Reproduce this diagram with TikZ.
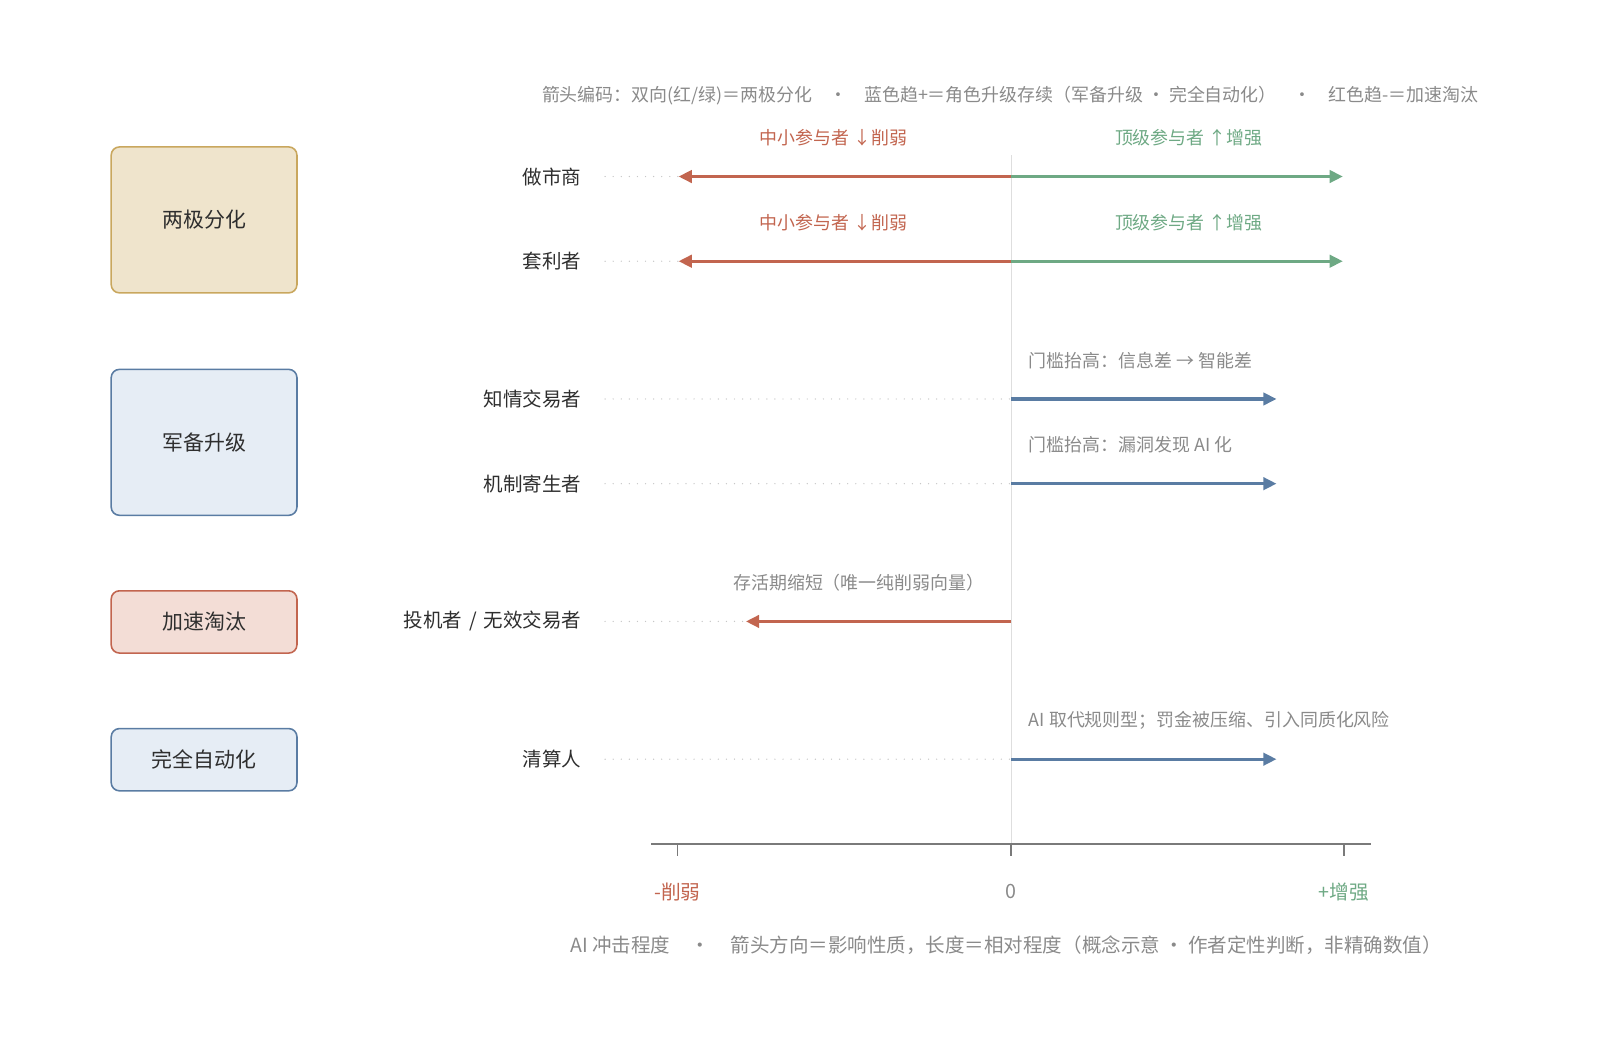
\documentclass[tikz,border=0pt]{standalone}
\usepackage{fontspec}
\setmainfont{Noto Sans CJK SC}
\usetikzlibrary{arrows.meta}

\definecolor{cutred}{HTML}{C2654F}
\definecolor{upgreen}{HTML}{6EA984}
\definecolor{keepblue}{HTML}{5A7CA3}
\definecolor{inkgray}{HTML}{8A8A8A}
\definecolor{inkdark}{HTML}{2E2E2E}
\definecolor{axisgray}{HTML}{7A7A7A}
\definecolor{sandfill}{HTML}{EFE4CC}
\definecolor{sanddraw}{HTML}{C9A75E}
\definecolor{bluefill}{HTML}{E6EDF5}
\definecolor{redfill}{HTML}{F3DDD6}

\tikzset{
	rowlabel/.style={anchor=east, inner sep=0pt, text=inkdark, font=\fontsize{11.1}{13}\selectfont},
	note/.style={inner sep=0pt, text=inkgray, font=\fontsize{10.2}{12}\selectfont},
	ticklabel/.style={inner sep=0pt, font=\fontsize{11.2}{13}\selectfont},
	groupbox/.style={draw, line width=0.9pt, rounded corners=0.165cm, minimum width=3.714cm, text=inkdark, font=\fontsize{11.9}{14}\selectfont},
	vec/.style={line width=1.8pt, -{Triangle[length=7.5pt,width=7pt]}},
	guide/.style={black!22, line width=0.8pt, line cap=round, dash pattern=on 0pt off 4.6pt}
}

\begin{document}
\begin{tikzpicture}[x=0.020408cm, y=-0.020408cm]
	\useasboundingbox (0,0) rectangle (1568,1023);

	% legend
	\node[note] (legend) at (990,94) {箭头编码：双向(红/绿)＝两极分化\hspace{0.95em}·\hspace{0.95em}蓝色趋+＝角色升级存续（军备升级 · 完全自动化）\hspace{0.95em}·\hspace{0.95em}红色趋-＝加速淘汰};

	% group boxes
	\node[groupbox, draw=sanddraw, fill=sandfill, minimum height=2.918cm] (polar) at (200,215.5) {两极分化};
	\node[groupbox, draw=keepblue, fill=bluefill, minimum height=2.918cm] (arms) at (200,433.5) {军备升级};
	\node[groupbox, draw=cutred, fill=redfill, minimum height=1.245cm] (elim) at (200,609.5) {加速淘汰};
	\node[groupbox, draw=keepblue, fill=bluefill, minimum height=1.245cm] (auto) at (200,744.5) {完全自动化};

	% zero line
	\coordinate (ztop) at (991,152);
	\coordinate (zbot) at (991,827);
	\draw[black!13, line width=0.8pt] (ztop) -- (zbot);

	% rows: name / y / left end
	\foreach \n/\y/\l/\t in {mm/173/665/做市商, arb/256/665/套利者, inf/391/991/知情交易者, par/474/991/机制寄生者, spec/609/731/{投机者\hspace{0.35em}/\hspace{0.35em}无效交易者}, clr/744/991/清算人}
	{
		\node[rowlabel] (\n) at (570,\y) {\t};
		\coordinate (\n-d) at (593,\y);
		\coordinate (\n-l) at (\l,\y);
		\coordinate (\n-z) at (991,\y);
		\draw[guide] (\n-d) -- (\n-l);
	}

	% two-sided arrows
	\foreach \n/\y in {mm/173, arb/256}
	{
		\coordinate (\n-r) at (1316,\y);
		\draw[vec, upgreen] (\n-z) -- (\n-r);
		\draw[vec, cutred] (\n-z) -- (\n-l);
		\node[note, text=cutred] (\n-cut) at (817,\y-38) {中小参与者 ↓削弱};
		\node[note, text=upgreen] (\n-up) at (1165,\y-38) {顶级参与者 ↑增强};
	}

	% blue arrows
	\foreach \n/\y in {inf/391, par/474, clr/744}
	{
		\coordinate (\n-r) at (1251,\y);
		\draw[vec, keepblue] (\n-z) -- (\n-r);
	}
	\node[note, anchor=west] (inf-note) at (1008,353) {门槛抬高：信息差 → 智能差};
	\node[note, anchor=west] (par-note) at (1008,436) {门槛抬高：漏洞发现 AI 化};
	\node[note, anchor=west] (clr-note) at (1008,706) {AI 取代规则型；罚金被压缩、引入同质化风险};

	% red arrow
	\draw[vec, cutred] (spec-z) -- (spec-l);
	\node[note, anchor=east] (spec-note) at (965,571) {存活期缩短（唯一纯削弱向量）};

	% axis
	\coordinate (axl) at (638,827);
	\coordinate (axr) at (1344,827);
	\draw[axisgray, line width=1.2pt] (axl) -- (axr);
	\foreach \x/\c/\t in {664/cutred/-削弱, 991/inkgray/0, 1317/upgreen/+增强}
	{
		\draw[axisgray, line width=1pt] (\x,827) -- (\x,839);
		\node[ticklabel, text=\c] at (\x,874) {\t};
	}

	% caption
	\node[note, font=\fontsize{11.1}{13}\selectfont] (caption) at (986,926) {AI 冲击程度\hspace{1.05em}·\hspace{1.05em}箭头方向＝影响性质，长度＝相对程度（概念示意 · 作者定性判断，非精确数值）};
\end{tikzpicture}
\end{document}
